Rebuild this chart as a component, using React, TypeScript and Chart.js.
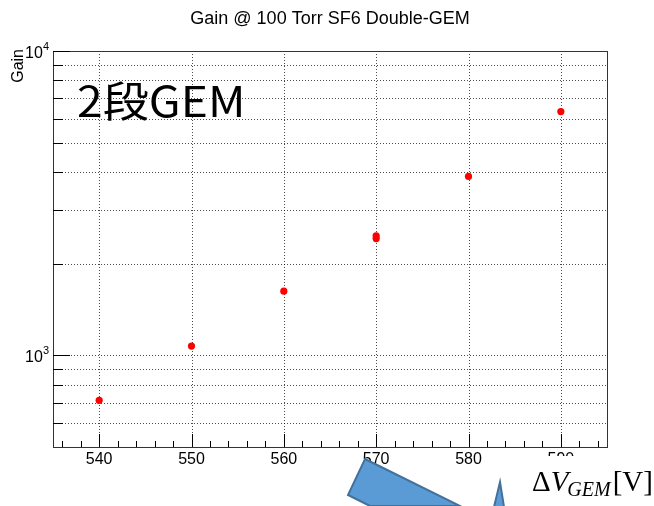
import React, { useEffect, useRef } from "react";
import { Chart, registerables } from "chart.js";

Chart.register(...registerables);

const chartTitle = "Gain @ 100 Torr SF6 Double-GEM";
const yAxisTitle = "Gain";
const voltages = [540, 550, 560, 570, 570, 580, 590];
const gains = [712, 1073, 1625, 2472, 2420, 3873, 6324];
const xMin = 535;
const xMax = 595;
const yMin = 500;
const yMax = 10000;
const xMajorTicks = [540, 550, 560, 570, 580, 590];
const xTickLabels = ["540", "550", "560", "570", "580", "590"];
const xMinorTicks = [536, 538, 542, 544, 546, 548, 552, 554, 556, 558, 562, 564, 566, 568, 572, 574, 576, 578, 582, 584, 586, 588, 592, 594];
const yMajorTicks = [1000, 10000];
const yMajorExponents = ["3", "4"];
const yMinorTicks = [600, 700, 800, 900, 2000, 3000, 4000, 5000, 6000, 7000, 8000, 9000];
const overlayLabel = "2段GEM";
const deltaLabel = { delta: "Δ", v: "V", sub: "GEM", unit: "[V]" };

const SANS = "'Liberation Sans', Arial, Helvetica, sans-serif";
const SERIF = "'Liberation Serif', 'Times New Roman', serif";

const rootPlugin = {
  id: "rootStyle",
  beforeDatasetsDraw(chart: any) {
    const { ctx, chartArea: a, scales } = chart;
    const x = scales.x;
    const y = scales.y;
    ctx.save();
    ctx.strokeStyle = "rgba(0,0,0,0.7)";
    ctx.lineWidth = 1;
    ctx.setLineDash([1, 2]);
    for (const v of xMajorTicks) {
      const px = Math.round(x.getPixelForValue(v)) + 0.5;
      ctx.beginPath();
      ctx.moveTo(px, a.top);
      ctx.lineTo(px, a.bottom);
      ctx.stroke();
    }
    for (const v of [...yMinorTicks, ...yMajorTicks]) {
      const py = Math.round(y.getPixelForValue(v)) + 0.5;
      ctx.beginPath();
      ctx.moveTo(a.left, py);
      ctx.lineTo(a.right, py);
      ctx.stroke();
    }
    ctx.restore();
  },
  afterDraw(chart: any) {
    const { ctx, chartArea: a, scales } = chart;
    const x = scales.x;
    const y = scales.y;
    ctx.save();
    // frame
    ctx.strokeStyle = "#333";
    ctx.lineWidth = 1;
    ctx.strokeRect(Math.round(a.left) + 0.5, Math.round(a.top) + 0.5, Math.round(a.right - a.left), Math.round(a.bottom - a.top));
    // x ticks
    ctx.strokeStyle = "#000";
    for (const v of xMajorTicks) {
      const px = Math.round(x.getPixelForValue(v)) + 0.5;
      ctx.beginPath();
      ctx.moveTo(px, a.bottom);
      ctx.lineTo(px, a.bottom - 13);
      ctx.stroke();
    }
    for (const v of xMinorTicks) {
      const px = Math.round(x.getPixelForValue(v)) + 0.5;
      ctx.beginPath();
      ctx.moveTo(px, a.bottom);
      ctx.lineTo(px, a.bottom - 6);
      ctx.stroke();
    }
    // y ticks
    for (const v of yMajorTicks) {
      const py = Math.round(y.getPixelForValue(v)) + 0.5;
      ctx.beginPath();
      ctx.moveTo(a.left, py);
      ctx.lineTo(a.left + 17, py);
      ctx.stroke();
    }
    for (const v of yMinorTicks) {
      const py = Math.round(y.getPixelForValue(v)) + 0.5;
      ctx.beginPath();
      ctx.moveTo(a.left, py);
      ctx.lineTo(a.left + 10, py);
      ctx.stroke();
    }
    // x labels
    ctx.fillStyle = "#000";
    ctx.font = `16px ${SANS}`;
    ctx.textAlign = "center";
    ctx.textBaseline = "alphabetic";
    xMajorTicks.forEach((v, i) => {
      ctx.fillText(xTickLabels[i], x.getPixelForValue(v), a.bottom + 17);
    });
    // y labels 10^n
    yMajorTicks.forEach((v, i) => {
      const py = y.getPixelForValue(v);
      ctx.font = `11px ${SANS}`;
      const supW = ctx.measureText(yMajorExponents[i]).width;
      const right = a.left - 4;
      ctx.textAlign = "left";
      ctx.fillText(yMajorExponents[i], right - supW, py - 1);
      ctx.font = `16px ${SANS}`;
      ctx.textAlign = "right";
      ctx.fillText("10", right - supW, py + 7);
    });
    // y axis title
    ctx.save();
    ctx.translate(23, a.top - 2);
    ctx.rotate(-Math.PI / 2);
    ctx.font = `16px ${SANS}`;
    ctx.textAlign = "right";
    ctx.textBaseline = "alphabetic";
    ctx.fillText(yAxisTitle, 0, 0);
    ctx.restore();
    // title
    ctx.font = `18px ${SANS}`;
    ctx.textAlign = "center";
    ctx.fillText(chartTitle, 330, 24);
    // overlay big label
    ctx.save();
    ctx.translate(77, 117);
    ctx.scale(1.1, 1);
    ctx.font = `42px 'Noto Sans CJK JP', 'Noto Sans CJK SC', sans-serif`;
    ctx.textAlign = "left";
    ctx.fillText(overlayLabel, 0, 0);
    ctx.restore();
    // blue arrow shapes
    ctx.fillStyle = "#5b9bd5";
    ctx.strokeStyle = "#41719c";
    ctx.lineWidth = 2;
    ctx.beginPath();
    ctx.moveTo(365, 459);
    ctx.lineTo(460, 506);
    ctx.lineTo(370, 506);
    ctx.lineTo(348, 495);
    ctx.closePath();
    ctx.fill();
    ctx.stroke();
    ctx.beginPath();
    ctx.moveTo(500, 482);
    ctx.lineTo(504, 507);
    ctx.lineTo(494, 507);
    ctx.closePath();
    ctx.fill();
    ctx.stroke();
    // white text box covering part of the axis label
    ctx.fillStyle = "#fff";
    ctx.fillRect(540, 456, 114, 50);
    // delta V label
    ctx.fillStyle = "#000";
    ctx.textAlign = "left";
    let cx = 532;
    ctx.font = `29px ${SERIF}`;
    ctx.fillText(deltaLabel.delta, cx, 491);
    cx += ctx.measureText(deltaLabel.delta).width;
    ctx.font = `italic 29px ${SERIF}`;
    ctx.fillText(deltaLabel.v, cx, 491);
    cx += ctx.measureText(deltaLabel.v).width - 1;
    ctx.font = `italic 20px ${SERIF}`;
    ctx.fillText(deltaLabel.sub, cx, 496);
    cx += ctx.measureText(deltaLabel.sub).width + 2;
    ctx.font = `29px ${SERIF}`;
    ctx.fillText(deltaLabel.unit, cx, 491);
    ctx.restore();
  },
};

export default function App() {
  const ref = useRef<HTMLCanvasElement | null>(null);
  useEffect(() => {
    if (!ref.current) return;
    const chart = new Chart(ref.current, {
      type: "scatter",
      data: {
        datasets: [
          {
            data: voltages.map((v, i) => ({ x: v, y: gains[i] })),
            backgroundColor: "#ff0000",
            borderColor: "#ff0000",
            pointRadius: 3.6,
            pointBorderWidth: 0,
          },
        ],
      },
      options: {
        responsive: false,
        animation: false,
        events: [],
        layout: { padding: { left: 53, top: 51, right: 47, bottom: 59 } },
        plugins: {
          legend: { display: false },
          tooltip: { enabled: false },
          title: { display: false },
        },
        scales: {
          x: { type: "linear", min: xMin, max: xMax, display: false },
          y: { type: "logarithmic", min: yMin, max: yMax, display: false },
        },
      },
      plugins: [rootPlugin],
    });
    return () => chart.destroy();
  }, []);
  return (
    <div style={{ position: "absolute", left: 0, top: 0, width: 654, height: 506, background: "#fff" }}>
      <canvas ref={ref} width={654} height={506} style={{ display: "block" }} />
    </div>
  );
}
